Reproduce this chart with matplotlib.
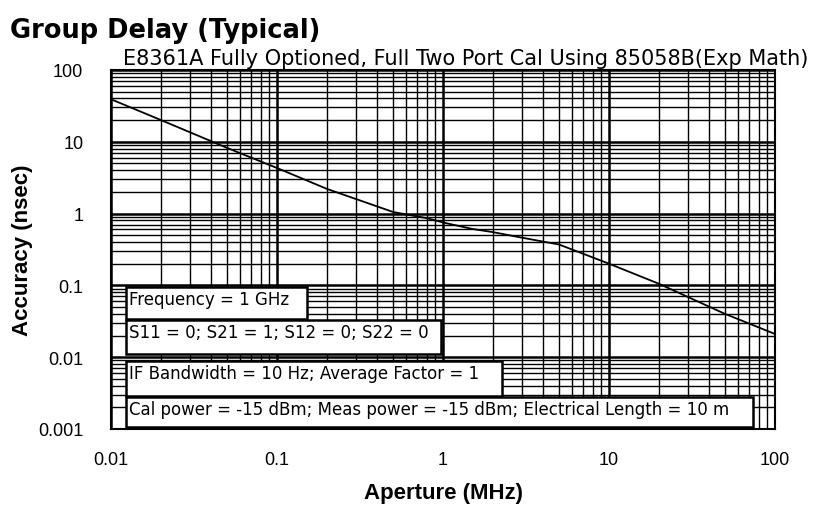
import numpy as np
import matplotlib
matplotlib.use("Agg")
import matplotlib.pyplot as plt
from matplotlib.ticker import LogLocator, NullFormatter
from matplotlib.patches import Rectangle

# values
aperture_mhz = [0.01, 0.02, 0.05, 0.1, 0.2, 0.5, 0.8, 1, 1.5, 2, 3, 5, 10, 20, 50, 100]
accuracy_ns = [39, 20, 8.2, 4.3, 2.2, 1.05, 0.86, 0.75, 0.61, 0.55, 0.46, 0.37, 0.20, 0.105, 0.040, 0.021]

xticks = [0.01, 0.1, 1, 10, 100]
xtick_labels = ['0.01', '0.1', '1', '10', '100']
yticks = [0.001, 0.01, 0.1, 1, 10, 100]
ytick_labels = ['0.001', '0.01', '0.1', '1', '10', '100']

notes = [
    'Frequency = 1 GHz',
    'S11 = 0; S21 = 1; S12 = 0; S22 = 0',
    'IF Bandwidth = 10 Hz; Average Factor = 1',
    'Cal power = -15 dBm; Meas power = -15 dBm; Electrical Length = 10 m',
]

plt.rcParams['font.family'] = ['Liberation Sans', 'DejaVu Sans']

fig = plt.figure(figsize=(8.17, 5.10), dpi=100)
ax = fig.add_axes([0.1359, 0.157, 0.8127, 0.704])

ax.plot(aperture_mhz, accuracy_ns, color='black', lw=1.3, zorder=3)

ax.set_xscale('log')
ax.set_yscale('log')
ax.set_xlim(0.01, 100)
ax.set_ylim(0.001, 100)

ax.set_xticks(xticks, xtick_labels)
ax.set_yticks(yticks, ytick_labels)
ax.xaxis.set_minor_locator(LogLocator(base=10, subs=range(2, 10)))
ax.yaxis.set_minor_locator(LogLocator(base=10, subs=range(2, 10)))
ax.xaxis.set_minor_formatter(NullFormatter())
ax.yaxis.set_minor_formatter(NullFormatter())
ax.tick_params(which='both', length=0, labelsize=13)
ax.tick_params(axis='y', pad=20)
ax.tick_params(axis='x', pad=16)

ax.grid(which='major', color='black', lw=1.8)
ax.grid(which='minor', color='black', lw=1.0)
ax.set_axisbelow(True)
for s in ax.spines.values():
    s.set_linewidth(1.5)

ax.set_xlabel('Aperture (MHz)', fontsize=16, fontweight='bold', labelpad=10)
ax.set_ylabel('Accuracy (nsec)', fontsize=16, fontweight='bold')
ax.yaxis.set_label_coords(-0.118, 0.5)

fig.text(0.012, 0.925, 'Group Delay (Typical)', fontsize=18.5, fontweight='bold',
         family='DejaVu Sans')
fig.text(0.15, 0.873, 'E8361A Fully Optioned, Full Two Port Cal Using 85058B(Exp Math)',
         fontsize=15, family='DejaVu Sans')

# annotation boxes (axes fraction): x0, x1, y_bottom, y_top
boxes = [
    (0.0226, 0.295, 0.3064, 0.3955),
    (0.0226, 0.497, 0.2089, 0.3036),
    (0.0226, 0.589, 0.0919, 0.189),
    (0.0226, 0.967, 0.0056, 0.0891),
]
for (x0, x1, y0, y1), txt in zip(boxes, notes):
    ax.add_patch(Rectangle((x0, y0), x1 - x0, y1 - y0, transform=ax.transAxes,
                           facecolor='white', edgecolor='black', lw=1.8, zorder=4))
    ax.text(x0 + 0.005, y1 - 0.008, txt, transform=ax.transAxes, ha='left', va='top',
            fontsize=12, family='DejaVu Sans', zorder=5)

fig.savefig('out.png', dpi=100, facecolor='white')
